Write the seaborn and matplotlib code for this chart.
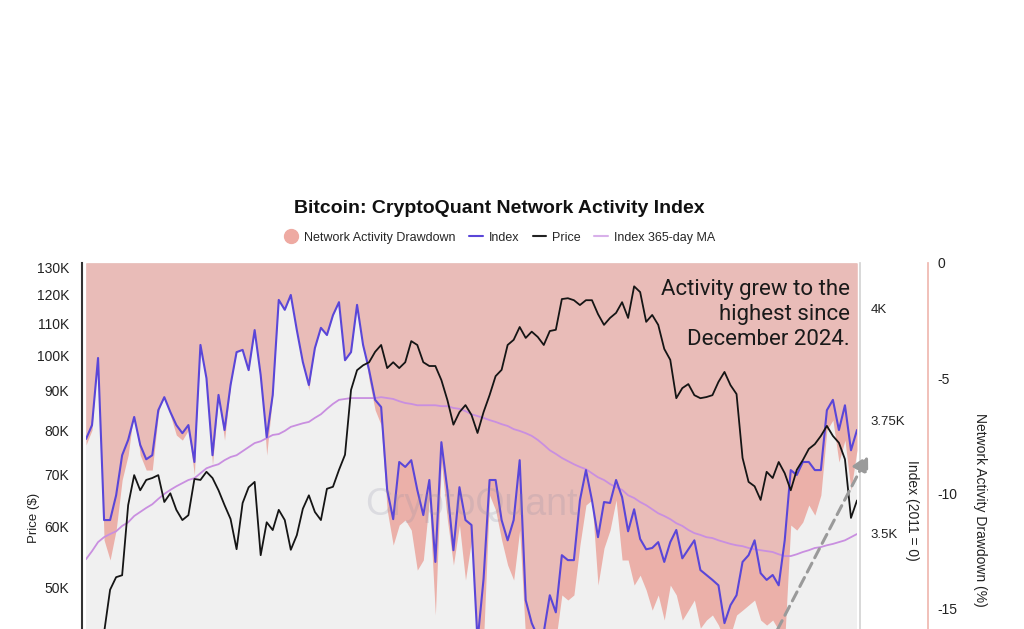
import numpy as np
import pandas as pd
import matplotlib.pyplot as plt
import seaborn as sns
from matplotlib.lines import Line2D
from matplotlib.ticker import NullLocator

sns.set_theme(style="white")
plt.rcParams['font.family'] = ['Liberation Sans', 'DejaVu Sans']

# values (price in $K, index in points, drawdown in %)
price_k = [42.0, 42.6, 43.1, 43.6, 49.6, 51.5, 51.8, 63.9, 69.9, 66.8,
           68.9, 69.3, 69.9, 64.5, 66.2, 63.0, 61.1, 62.0, 69.1, 68.9,
           70.6, 69.3, 66.8, 63.9, 61.3, 56.0, 64.3, 67.4, 68.5, 55.0,
           60.7, 59.3, 63.0, 61.1, 55.9, 58.4, 63.2, 65.8, 62.6, 61.1,
           67.1, 67.5, 71.0, 74.3, 90.2, 95.7, 97.1, 98.0, 101.1, 103.2,
           96.3, 98.0, 96.3, 98.0, 104.4, 103.2, 98.0, 96.9, 96.9, 92.9,
           87.5, 81.3, 84.4, 86.2, 83.7, 79.3, 84.4, 88.8, 94.0, 95.8,
           103.2, 104.8, 108.9, 105.4, 107.4, 105.7, 103.2, 107.6, 108.0, 118.4,
           118.7, 118.0, 116.3, 118.0, 118.0, 113.2, 109.6, 111.9, 113.6, 117.3,
           111.9, 123.0, 120.9, 110.6, 112.9, 109.6, 102.0, 98.7, 88.0, 90.7,
           91.8, 88.8, 88.0, 88.3, 88.8, 92.4, 95.2, 91.5, 89.1, 73.6,
           68.5, 67.6, 64.9, 70.6, 69.3, 72.7, 70.3, 66.8, 71.0, 73.1,
           75.6, 76.7, 78.6, 81.0, 78.6, 77.0, 73.3, 61.5, 64.8]

index = [3709, 3740, 3889, 3529, 3529, 3584, 3673, 3707, 3758, 3696,
         3664, 3673, 3773, 3802, 3769, 3740, 3722, 3740, 3658, 3918,
         3844, 3673, 3807, 3729, 3829, 3902, 3907, 3862, 3951, 3851,
         3713, 3807, 4018, 3996, 4029, 3951, 3880, 3829, 3911, 3956,
         3940, 3984, 4013, 3884, 3902, 4007, 3918, 3862, 3796, 3780,
         3596, 3531, 3658, 3647, 3662, 3596, 3540, 3618, 3436, 3702,
         3596, 3462, 3602, 3529, 3518, 3260, 3398, 3618, 3618, 3529,
         3484, 3529, 3662, 3351, 3300, 3270, 3280, 3362, 3324, 3451,
         3440, 3440, 3573, 3640, 3573, 3491, 3569, 3567, 3618, 3580,
         3504, 3553, 3487, 3464, 3467, 3480, 3436, 3480, 3507, 3444,
         3464, 3484, 3418, 3407, 3396, 3384, 3300, 3340, 3362, 3436,
         3451, 3484, 3411, 3396, 3407, 3384, 3484, 3640, 3629, 3658,
         3658, 3640, 3640, 3773, 3796, 3729, 3784, 3684, 3729]

index_ma = [3442, 3460, 3480, 3491, 3498, 3504, 3516, 3524, 3538, 3547,
            3556, 3564, 3576, 3587, 3596, 3604, 3611, 3618, 3622, 3633,
            3644, 3649, 3653, 3662, 3669, 3673, 3682, 3691, 3700, 3704,
            3711, 3718, 3720, 3727, 3736, 3740, 3744, 3747, 3756, 3764,
            3776, 3787, 3796, 3798, 3800, 3800, 3800, 3800, 3800, 3802,
            3800, 3798, 3793, 3789, 3787, 3784, 3784, 3784, 3784, 3782,
            3782, 3778, 3776, 3771, 3764, 3760, 3756, 3751, 3747, 3742,
            3738, 3731, 3727, 3722, 3716, 3707, 3696, 3684, 3676, 3667,
            3660, 3653, 3647, 3642, 3633, 3624, 3618, 3609, 3602, 3596,
            3584, 3578, 3569, 3562, 3553, 3544, 3538, 3531, 3522, 3516,
            3507, 3500, 3496, 3491, 3489, 3484, 3480, 3476, 3473, 3471,
            3467, 3464, 3462, 3460, 3458, 3453, 3449, 3449, 3453, 3458,
            3462, 3467, 3469, 3473, 3476, 3480, 3484, 3491, 3498]

drawdown = [-7.91, -7.26, -3.35, -12.04, -12.91, -11.61, -9.43, -8.35, -6.39, -8.35,
            -9.0, -9.0, -6.61, -5.30, -6.61, -7.48, -7.70, -7.26, -9.22, -2.57,
            -4.87, -8.78, -5.74, -7.70, -5.30, -2.91, -3.13, -4.65, -1.61, -4.65,
            -8.35, -5.74, -0.30, -0.96, -0.05, -2.48, -4.22, -5.52, -3.35, -2.04,
            -2.70, -1.61, -1.17, -4.22, -3.57, -1.26, -3.35, -5.09, -6.39, -7.04,
            -10.74, -12.26, -11.39, -11.17, -11.61, -13.35, -12.91, -10.30, -15.30, -8.65,
            -11.17, -13.13, -11.39, -13.78, -12.04, -16.39, -16.39, -10.09, -10.74, -12.04,
            -13.13, -13.78, -11.61, -16.39, -16.39, -16.39, -16.39, -15.96, -16.39, -14.43,
            -14.65, -14.43, -12.26, -10.52, -10.30, -14.0, -12.39, -11.61, -10.30, -12.91,
            -12.91, -14.0, -13.57, -14.22, -15.09, -14.43, -15.52, -14.0, -14.43, -15.52,
            -15.09, -14.65, -15.87, -15.52, -15.30, -15.74, -16.39, -16.17, -15.30, -15.09,
            -14.87, -14.65, -15.52, -15.74, -15.52, -15.96, -16.39, -11.39, -11.61, -11.26,
            -10.52, -10.96, -10.09, -7.26, -6.83, -8.65, -7.70, -9.87, -8.13]

dates = pd.date_range("2024-01-22", "2026-03-08", periods=len(price_k))

price_ticks = [50, 60, 70, 80, 90, 100, 110, 120, 130]
price_labels = [f"{t}K" for t in price_ticks]
index_ticks = [3500, 3750, 4000]
index_labels = ["3.5K", "3.75K", "4K"]
dd_ticks = [0, -5, -10, -15]
dd_labels = ["0", "-5", "-10", "-15"]

fig = plt.figure(figsize=(10.24, 6.29), dpi=100)

# drawdown (host axes, background)
ax_dd = fig.add_axes([86 / 1024, 0, 771 / 1024, 366 / 629])
ax_dd.set_facecolor('#f0f0f0')
ax_dd.fill_between(dates, 0, drawdown, color='#ebb0a9', lw=0)
ax_dd.set_ylim(-15.91, 0)
ax_dd.set_xlim(dates[0], dates[-1])

# index axis
ax_idx = ax_dd.twinx()
idx_top = 4100
ax_idx.fill_between(dates, index, idx_top, color='#e9bcb8', lw=0)
sns.lineplot(x=dates, y=index_ma, ax=ax_idx, color='#c98fe0', lw=1.3)
sns.lineplot(x=dates, y=index, ax=ax_idx, color='#5a46d8', lw=1.5)
ax_idx.set_ylim(3287, idx_top)

# price axis (log)
ax_p = ax_dd.twinx()
sns.lineplot(x=dates, y=price_k, ax=ax_p, color='#151515', lw=1.3)
ax_p.set_yscale('log')
ax_p.set_ylim(44.1, 131.9)
ax_p.yaxis.set_minor_locator(NullLocator())
ax_p.set_yticks(price_ticks)
ax_p.set_yticklabels(price_labels)
ax_p.yaxis.tick_left()
ax_p.yaxis.set_label_position('left')

for a in (ax_dd, ax_idx, ax_p):
    a.spines['top'].set_visible(False)
    a.spines['bottom'].set_visible(False)
    a.tick_params(axis='x', bottom=False, labelbottom=False)
    a.set_xlabel('')
    a.grid(False)

ax_dd.spines['left'].set_visible(False)
ax_dd.spines['right'].set_position(('outward', 51))
ax_dd.spines['right'].set_color('#f0b8b0')
ax_dd.yaxis.tick_right()
ax_dd.set_yticks(dd_ticks)
ax_dd.set_yticklabels(dd_labels)
ax_dd.tick_params(axis='y', length=0, pad=7, labelsize=10, labelcolor='#222')

ax_idx.spines['left'].set_visible(False)
ax_idx.spines['right'].set_position(('outward', 2))
ax_idx.spines['right'].set_color('#d4d4d4')
ax_idx.set_yticks(index_ticks)
ax_idx.set_yticklabels(index_labels)
ax_idx.tick_params(axis='y', length=0, pad=8, labelsize=9.5, labelcolor='#222')

ax_p.spines['right'].set_visible(False)
ax_p.spines['left'].set_position(('outward', 3))
ax_p.spines['left'].set_color('#333333')
ax_p.spines['left'].set_linewidth(1.5)
ax_p.tick_params(axis='y', length=0, pad=9, labelsize=10, labelcolor='#222')

ax_p.set_ylabel('Price ($)', fontsize=9.5, color='#222')
ax_p.yaxis.set_label_coords(-0.06, 0.303)
ax_idx.set_ylabel('Index (2011 = 0)', fontsize=10, color='#222', rotation=270, va='center')
ax_idx.yaxis.set_label_coords(1.071, 0.325)
ax_dd.set_ylabel('Network Activity Drawdown (%)', fontsize=10, color='#222', rotation=270, va='center')
ax_dd.yaxis.set_label_coords(1.160, 0.325)

# watermark
ax_p.text(0.5, 0.34, "CryptoQuant", transform=ax_p.transAxes, ha='center', va='center',
          fontsize=27, color='#8888a0', alpha=0.2)

# annotation
ax_p.text(0.991, 0.955, "Activity grew to the\nhighest since\nDecember 2024.",
          transform=ax_p.transAxes, ha='right', va='top', fontsize=16,
          family=['Roboto', 'DejaVu Sans'], fontweight='normal', color='#1a1a1a',
          linespacing=1.25, multialignment='right')

ax_p.annotate('', xy=(868, 174), xycoords='figure pixels',
              xytext=(770, -15), textcoords='figure pixels',
              arrowprops=dict(arrowstyle='-|>,head_length=0.6,head_width=0.32',
                              color='#9a9a9a', lw=2.2, linestyle=(0, (3.3, 2)),
                              shrinkA=0, shrinkB=0, mutation_scale=16),
              annotation_clip=False)

fig.text(0.488, 0.669, "Bitcoin: CryptoQuant Network Activity Index", ha='center',
         va='center', fontsize=14, fontweight='bold', color='#111')

handles = [Line2D([], [], marker='o', ls='none', color='#eeaaa2', markersize=10),
           Line2D([], [], color='#5a46d8', lw=1.5),
           Line2D([], [], color='#222222', lw=1.5),
           Line2D([], [], color='#d8b0ea', lw=1.5)]
labels = ["Network Activity Drawdown", "Index", "Price", "Index 365-day MA"]
fig.legend(handles, labels, loc='center', bbox_to_anchor=(0.488, 0.622), ncol=4,
           frameon=False, fontsize=9, handlelength=1.1, columnspacing=1.1,
           handletextpad=0.45)

fig.savefig('out.png', dpi=100)
